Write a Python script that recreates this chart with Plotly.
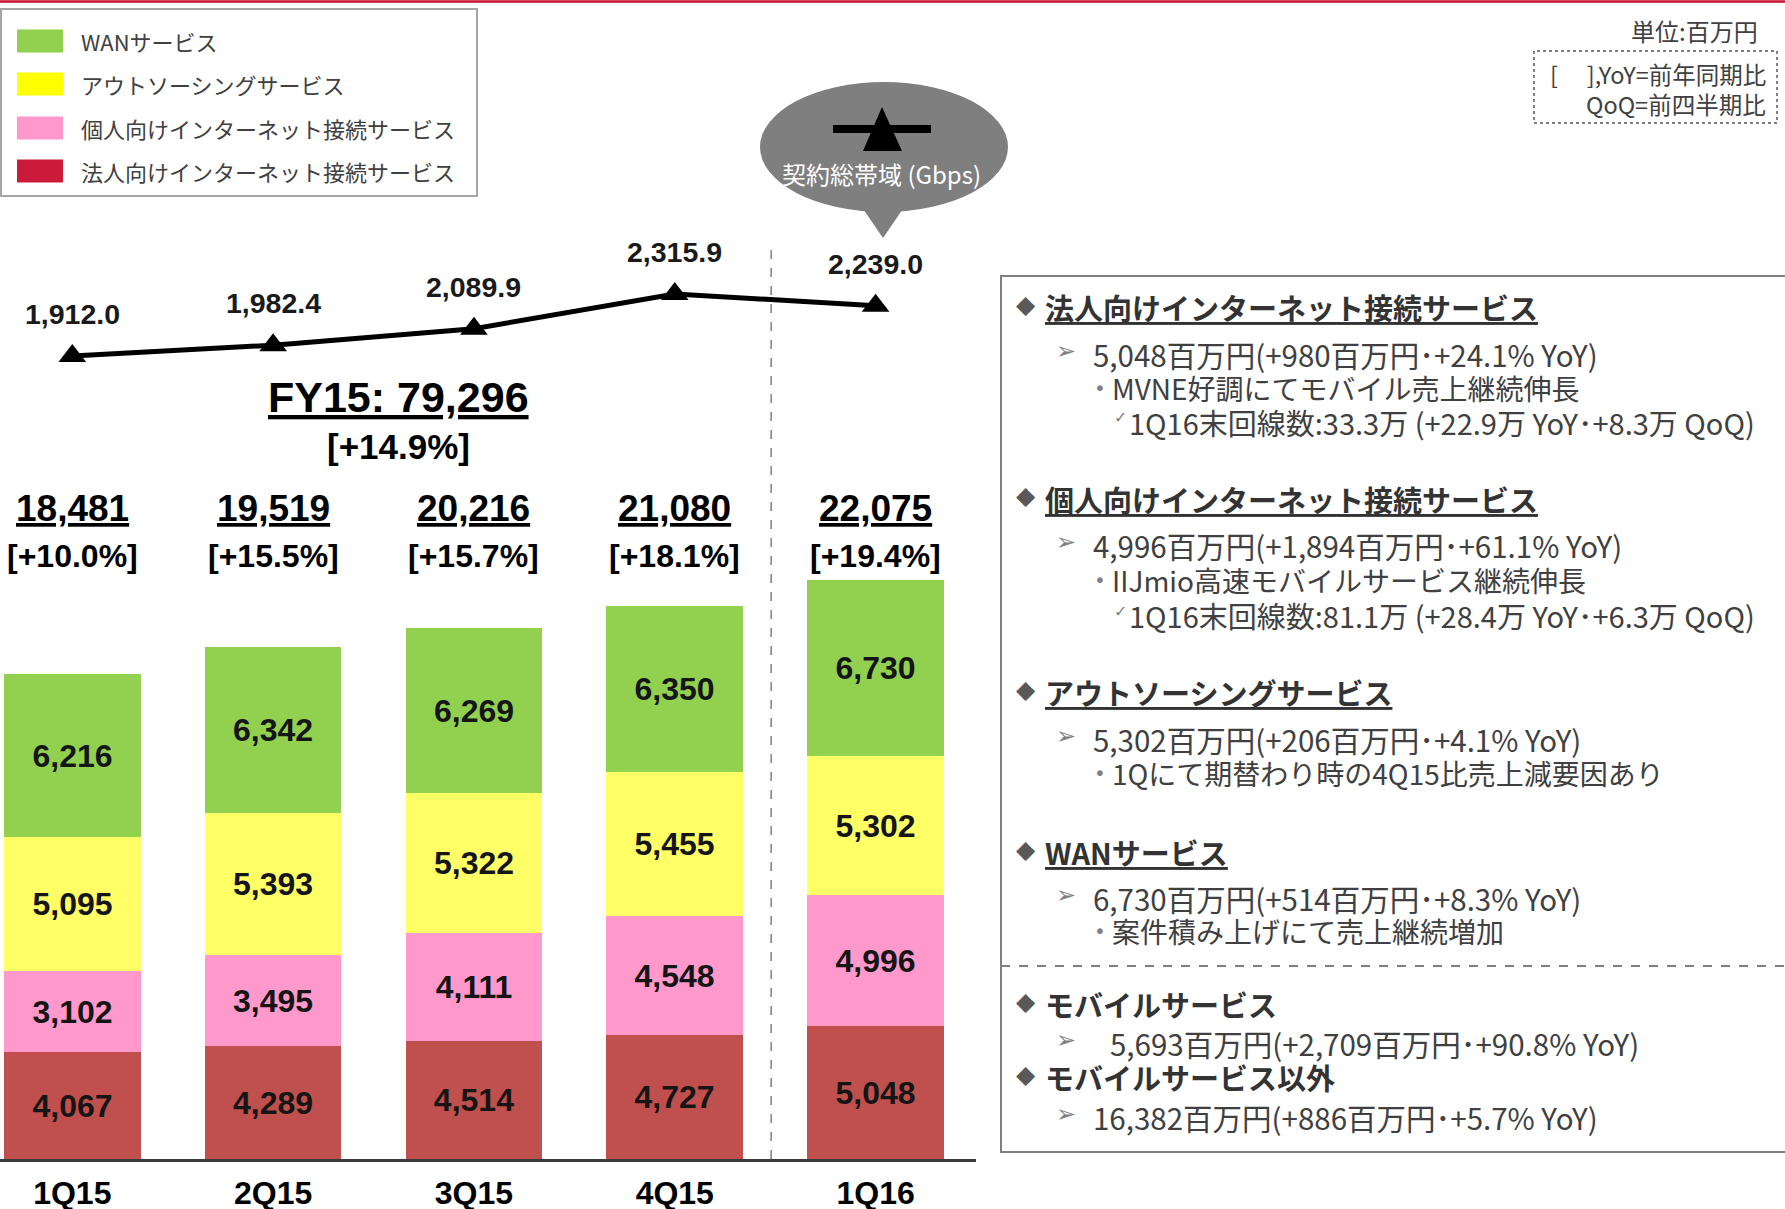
import plotly.graph_objects as go

# ---------------- data ----------------
quarters = ["1Q15", "2Q15", "3Q15", "4Q15", "1Q16"]
corp_internet = [4067, 4289, 4514, 4727, 5048]      # 法人向けインターネット接続サービス
pers_internet = [3102, 3495, 4111, 4548, 4996]      # 個人向けインターネット接続サービス
outsourcing = [5095, 5393, 5322, 5455, 5302]        # アウトソーシングサービス
wan = [6216, 6342, 6269, 6350, 6730]                # WANサービス
totals = [18481, 19519, 20216, 21080, 22075]
yoy_pct = [10.0, 15.5, 15.7, 18.1, 19.4]
gbps = [1912.0, 1982.4, 2089.9, 2315.9, 2239.0]     # 契約総帯域 (Gbps)

series_names = ["法人向けインターネット接続サービス", "個人向けインターネット接続サービス",
                "アウトソーシングサービス", "WANサービス"]
bar_colors = ["#c0504d", "#ff99cc", "#ffff66", "#92d050"]
legend_names = ["WANサービス", "アウトソーシングサービス",
                "個人向けインターネット接続サービス", "法人向けインターネット接続サービス"]
legend_colors = ["#92d050", "#ffff00", "#ff99cc", "#cc1a3a"]

panel = [
    ("h", "法人向けインターネット接続サービス", 307),
    ("a", "5,048百万円(+980百万円･+24.1% YoY)", 354),
    ("b", "MVNE好調にてモバイル売上継続伸長", 388),
    ("c", "1Q16末回線数:33.3万 (+22.9万 YoY･+8.3万 QoQ)", 422),
    ("h", "個人向けインターネット接続サービス", 499),
    ("a", "4,996百万円(+1,894百万円･+61.1% YoY)", 545),
    ("b", "IIJmio高速モバイルサービス継続伸長", 580),
    ("c", "1Q16末回線数:81.1万 (+28.4万 YoY･+6.3万 QoQ)", 615),
    ("h", "アウトソーシングサービス", 692),
    ("a", "5,302百万円(+206百万円･+4.1% YoY)", 739),
    ("b", "1Qにて期替わり時の4Q15比売上減要因あり", 773),
    ("h", "WANサービス", 852),
    ("a", "6,730百万円(+514百万円･+8.3% YoY)", 898),
    ("b", "案件積み上げにて売上継続増加", 931),
    ("H", "モバイルサービス", 1004),
    ("A", "5,693百万円(+2,709百万円･+90.8% YoY)", 1043),
    ("H", "モバイルサービス以外", 1077),
    ("a", "16,382百万円(+886百万円･+5.7% YoY)", 1117),
]

# ---------------- geometry helpers ----------------
FIG_W, FIG_H = 1785, 1209
PW, PH = 976, 1159           # plot area (pixels), origin at top-left of figure
NUM = "Liberation Sans, Arial, sans-serif"
JP = "Noto Sans CJK JP, sans-serif"


def xp(px):
    return px / PW


def yp(py):
    return 1 - py / PH


fig = go.Figure()

stack = [corp_internet, pers_internet, outsourcing, wan]
for name, vals, col in zip(series_names, stack, bar_colors):
    fig.add_trace(go.Bar(
        x=quarters, y=vals, name=name, marker=dict(color=col, line=dict(width=0)),
        width=0.68, texttemplate="%{y:,}", textposition="inside",
        insidetextanchor="middle", textangle=0, constraintext="none",
        textfont=dict(family=NUM, size=32, color="#151515", weight="bold"),
        showlegend=False, hoverinfo="skip"))

fig.add_trace(go.Scatter(
    x=quarters, y=gbps, yaxis="y2", mode="lines+markers",
    line=dict(color="black", width=5),
    marker=dict(symbol="triangle-up", size=24, color="black"),
    showlegend=False, hoverinfo="skip"))

anns = []


def ann(text, x, y, size, color="#404040", family=JP, weight="normal",
        xanchor="left", xref="paper", yref="paper", yshift=0):
    anns.append(dict(text=text, x=x, y=y, xref=xref, yref=yref, showarrow=False,
                     xanchor=xanchor, yanchor="middle", yshift=yshift,
                     font=dict(family=family, size=size, color=color, weight=weight)))


# line labels
for q, v in zip(quarters, gbps):
    ann(f"{v:,.1f}", q, v, 28.5, "#1a1a1a", NUM, "bold", "center", "x", "y2", yshift=42)

# totals and yoy
for q, t, p in zip(quarters, totals, yoy_pct):
    ann(f"<u>{t:,}</u>", q, yp(509), 37, "black", NUM, "bold", "center", "x", "paper")
    ann(f"[+{p:.1f}%]", q, yp(556), 32, "black", NUM, "bold", "center", "x", "paper")

ann("<u>FY15: 79,296</u>", xp(398), yp(397), 43, "black", NUM, "bold", "center")
ann("[+14.9%]", xp(398), yp(446), 35, "black", NUM, "bold", "center")

shapes = []


def rect(x0, y0, x1, y1, fill=None, line_color=None, lw=0, dash=None):
    shapes.append(dict(type="rect", xref="paper", yref="paper",
                       x0=xp(x0), x1=xp(x1), y0=yp(y1), y1=yp(y0),
                       fillcolor=fill if fill else "rgba(0,0,0,0)",
                       line=dict(color=line_color if line_color else "rgba(0,0,0,0)",
                                 width=lw, dash=dash)))


def hline(x0, x1, y, color, w, dash=None):
    shapes.append(dict(type="line", xref="paper", yref="paper",
                       x0=xp(x0), x1=xp(x1), y0=yp(y), y1=yp(y),
                       line=dict(color=color, width=w, dash=dash)))


# top red rule
hline(0, FIG_W, 1.5, "#c8102e", 2.5)

# legend box
rect(1, 9, 477, 196, None, "#a6a6a6", 2)
leg_y = [41, 84, 128, 171]
for name, col, cy in zip(legend_names, legend_colors, leg_y):
    rect(17, cy - 11.5, 63, cy + 11.5, col)
    ann(name, xp(79), yp(cy), 22, "#404040")

# vertical dashed divider
shapes.append(dict(type="line", xref="x", yref="paper", x0=3.48, x1=3.48,
                   y0=0, y1=yp(241), layer="below",
                   line=dict(color="#808080", width=1.5, dash="dash")))

# speech bubble
shapes.append(dict(type="circle", xref="paper", yref="paper",
                   x0=xp(760), x1=xp(1008), y0=yp(212), y1=yp(82),
                   fillcolor="#7f7f7f", line=dict(width=0)))
shapes.append(dict(type="path", xref="paper", yref="paper",
                   path=f"M {xp(857)},{yp(200)} L {xp(909)},{yp(200)} L {xp(883)},{yp(238)} Z",
                   fillcolor="#7f7f7f", line=dict(width=0)))
hline(833, 931, 129, "black", 8)
shapes.append(dict(type="path", xref="paper", yref="paper",
                   path=f"M {xp(863)},{yp(151)} L {xp(902)},{yp(151)} L {xp(882)},{yp(107)} Z",
                   fillcolor="black", line=dict(width=0)))
ann("契約総帯域 (Gbps)", xp(881), yp(174), 24, "white", JP, "normal", "center")

# unit notes
ann("単位:百万円", xp(1760), yp(30), 24, "#404040", JP, "normal", "right")
rect(1534, 51, 1777, 123, None, "#808080", 2, "dot")
ann("[　 ],YoY=前年同期比", xp(1768), yp(74), 23.5, "#404040", JP, "normal", "right")
ann("QoQ=前四半期比", xp(1768), yp(104), 23.5, "#404040", JP, "normal", "right")

# right text panel
rect(1001, 276, 1800, 1152, None, "#7f7f7f", 2)
hline(1001, 1790, 966, "#7f7f7f", 2, "dash")
for kind, text, y in panel:
    if kind in ("h", "H"):
        ann("◆", xp(1014), yp(y - 3), 25, "#595959", "DejaVu Sans")
        t = f"<u>{text}</u>" if kind == "h" else text
        ann(t, xp(1043), yp(y), 29, "#333333", JP, "bold")
    elif kind in ("a", "A"):
        ann("➢", xp(1054), yp(y - 3), 24, "#808080", "DejaVu Sans")
        ann(text, xp(1091 if kind == "a" else 1108), yp(y), 29.5, "#404040")
    elif kind == "b":
        ann("•", xp(1092), yp(y), 20, "#808080", "DejaVu Sans")
        ann(text, xp(1110), yp(y), 28, "#404040")
    else:
        ann("✓", xp(1112), yp(y - 4), 16, "#808080", "DejaVu Sans")
        ann(text, xp(1127), yp(y), 29, "#404040")

fig.update_layout(
    width=FIG_W, height=FIG_H, autosize=False,
    margin=dict(l=0, r=FIG_W - PW, t=0, b=FIG_H - PH, pad=0),
    paper_bgcolor="white", plot_bgcolor="white",
    barmode="stack", bargap=0,
    xaxis=dict(range=[-0.36, 4.5], showgrid=False, zeroline=False,
               showline=True, linecolor="#3a3a3a", linewidth=3,
               ticks="outside", ticklen=4, tickcolor="rgba(0,0,0,0)",
               tickfont=dict(family=NUM, size=32, color="black", weight="bold"),
               automargin=False, fixedrange=True),
    yaxis=dict(range=[0, PH / 0.02625], visible=False, showgrid=False,
               zeroline=False, fixedrange=True),
    yaxis2=dict(range=[-3319, 4231], overlaying="y", visible=False,
                showgrid=False, zeroline=False, fixedrange=True),
    annotations=anns, shapes=shapes, showlegend=False,
)

fig.write_html("out.html", config={"displayModeBar": False},
               post_script="document.body.style.margin='0';document.body.style.overflow='hidden';")
